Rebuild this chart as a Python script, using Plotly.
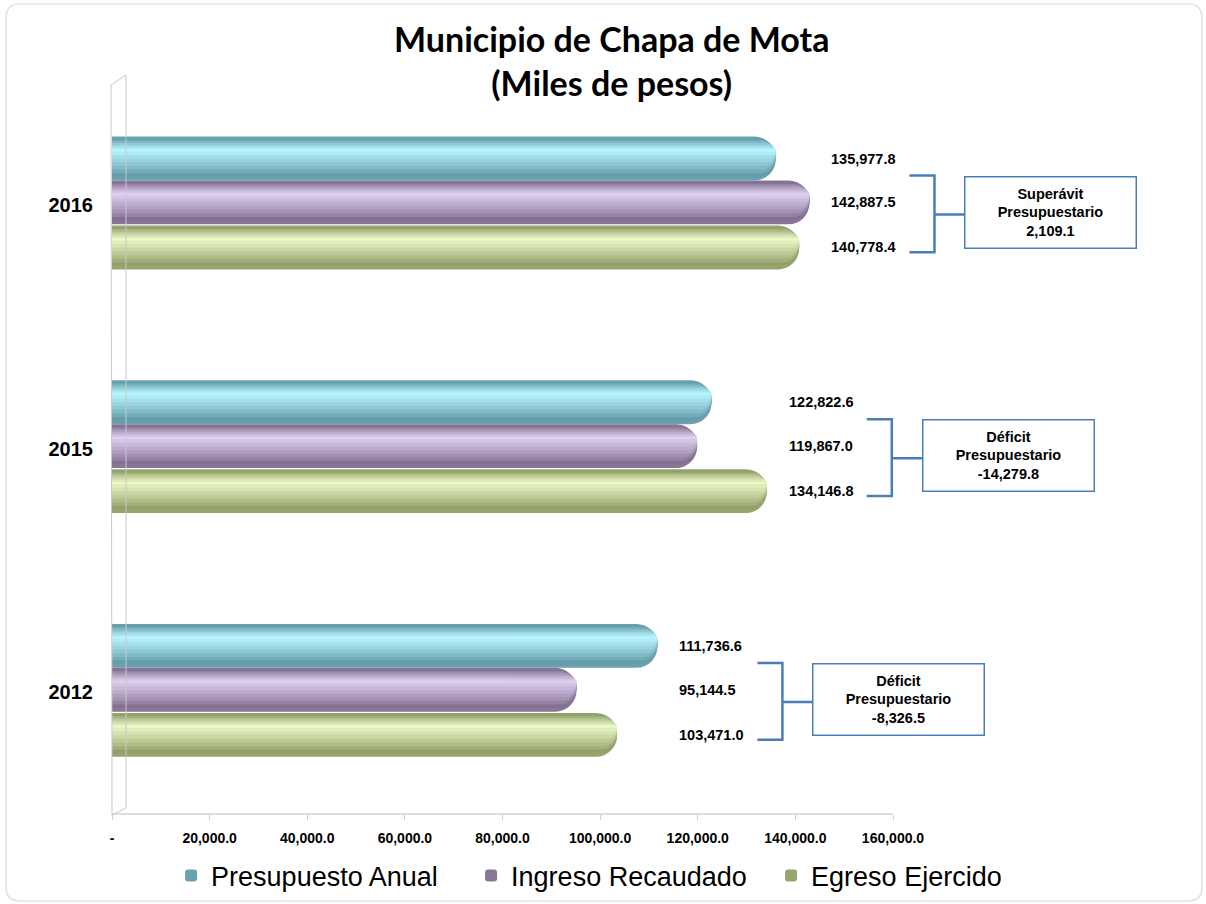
import plotly.graph_objects as go

# datos (miles de pesos)
years = ["2012", "2015", "2016"]
presupuesto = [111736.6, 122822.6, 135977.8]
ingreso = [95144.5, 119867.0, 142887.5]
egreso = [103471.0, 134146.8, 140778.4]

series_names = ["Presupuesto Anual", "Ingreso Recaudado", "Egreso Ejercido"]
tick_vals = [0, 20000, 40000, 60000, 80000, 100000, 120000, 140000, 160000]
tick_text = ["-", "20,000.0", "40,000.0", "60,000.0", "80,000.0",
             "100,000.0", "120,000.0", "140,000.0", "160,000.0"]

# layout en pixeles
W, H = 1206, 904
ML, MR, MT, MB = 112, 16, 83, 90
PW, PH = W - ML - MR, H - MT - MB
XMAX = 160000 * PW / (893 - ML)


def px(x):
    return (x - ML) / PW


def py(y):
    return (H - MB - y) / PH


def mix(c1, c2, t):
    a = [int(c1[i:i + 2], 16) for i in (1, 3, 5)]
    b = [int(c2[i:i + 2], 16) for i in (1, 3, 5)]
    return "#" + "".join(f"{round(x + (y - x) * t):02X}" for x, y in zip(a, b))


# tonos cilindro: oscuro -> brillo
shades = {
    "Presupuesto Anual": ("#4F8593", "#B8F6FF"),
    "Ingreso Recaudado": ("#6A5879", "#E0D0F0"),
    "Egreso Ejercido": ("#7A8852", "#EAF9C6"),
}
offsets = {"Presupuesto Anual": 0.19, "Ingreso Recaudado": 0.01, "Egreso Ejercido": -0.175}
BW = 0.18
NL = 9

values = dict(zip(series_names, [presupuesto, ingreso, egreso]))
ypos = list(range(len(years)))

fig = go.Figure()

for k in range(NL):
    t = k / (NL - 1)
    a = -0.5 + t * 0.66
    b = 0.5 - t * 0.29
    for name in series_names:
        dark, hi = shades[name]
        fig.add_trace(go.Bar(
            x=values[name],
            y=[i + offsets[name] + BW * (a + b) / 2 for i in ypos],
            orientation="h",
            width=BW * (b - a),
            name=name,
            showlegend=(k == 0),
            legendgroup=name,
            marker=dict(color=mix(dark, hi, t ** 0.75) if k else mix(dark, hi, 0.25),
                        cornerradius="50%", line=dict(width=0)),
            hoverinfo="skip" if k else "x+name",
        ))

annotations = [dict(
    x=px(611), y=py(16), xref="paper", yref="paper",
    text="<b>Municipio de Chapa de Mota<br>(Miles de pesos)</b>",
    showarrow=False, xanchor="center", yanchor="top",
    font=dict(family="Lato", size=34, color="black"),
)]
shapes = []
for i, yr in enumerate(years):
    gmax = max(values[n][i] for n in series_names)
    for name in series_names:
        annotations.append(dict(
            x=gmax, y=i + offsets[name], xref="x", yref="y",
            text="<b>%s</b>" % f"{values[name][i]:,.1f}",
            showarrow=False, xanchor="left", xshift=20,
            font=dict(family="Arial", size=14.5, color="black"),
        ))
    diff = ingreso[i] - egreso[i]
    kind = "Superávit" if diff >= 0 else "Déficit"
    top, bot, mid = i + 0.12, i - 0.195, i - 0.04
    shapes.append(dict(
        type="path", xref="x", yref="y", xsizemode="pixel", xanchor=gmax,
        path=f"M 100,{top} L 125,{top} L 125,{bot} L 100,{bot} M 125,{mid} L 156,{mid}",
        line=dict(color="#4A7EBB", width=2.5),
    ))
    annotations.append(dict(
        x=gmax, y=i - 0.03, xref="x", yref="y",
        text=f"<b>{kind}<br>Presupuestario<br>{diff:,.1f}</b>",
        showarrow=False, xanchor="left", yanchor="middle", xshift=155,
        width=164, height=64, borderpad=3, align="center",
        bordercolor="#4A7EBB", borderwidth=1.5, bgcolor="white",
        font=dict(family="Arial", size=14.5, color="black"),
    ))

# piso del grafico
shapes.append(dict(type="line", xref="x", yref="paper", x0=0, x1=160000, y0=0, y1=0,
                   line=dict(color="#D0D0D0", width=1.5)))
# pared lateral 3D
shapes.append(dict(
    type="path", xref="paper", yref="paper",
    path=f"M {px(111)},{py(85)} L {px(126)},{py(75)} L {px(126)},{py(808)} "
         f"L {px(112)},{py(815)} Z",
    line=dict(color="#C8C8C8", width=1),
))
# borde exterior redondeado
x0, x1, y0, y1, r = 6, 1202, 4, 901, 14
shapes.append(dict(
    type="path", xref="paper", yref="paper", layer="below",
    path=(f"M {px(x0 + r)},{py(y0)} L {px(x1 - r)},{py(y0)} "
          f"Q {px(x1)},{py(y0)} {px(x1)},{py(y0 + r)} L {px(x1)},{py(y1 - r)} "
          f"Q {px(x1)},{py(y1)} {px(x1 - r)},{py(y1)} L {px(x0 + r)},{py(y1)} "
          f"Q {px(x0)},{py(y1)} {px(x0)},{py(y1 - r)} L {px(x0)},{py(y0 + r)} "
          f"Q {px(x0)},{py(y0)} {px(x0 + r)},{py(y0)} Z"),
    line=dict(color="#D8D8D8", width=1.2),
))

fig.update_layout(
    width=W, height=H,
    margin=dict(l=ML, r=MR, t=MT, b=MB, autoexpand=False),
    paper_bgcolor="white", plot_bgcolor="white",
    barmode="overlay",
    xaxis=dict(
        range=[0, XMAX], tickvals=tick_vals, ticktext=tick_text,
        showgrid=False, zeroline=False, showline=False, automargin=False,
        ticks="outside", ticklen=5, tickcolor="#D0D0D0",
        ticklabelstandoff=6,
        tickfont=dict(family="Arial", size=14, color="black", weight="bold"),
    ),
    yaxis=dict(
        range=[-0.5, 2.5], tickvals=ypos, ticktext=years,
        showgrid=False, zeroline=False, showline=False, ticks="",
        automargin=False, ticklabelstandoff=18,
        tickfont=dict(family="Arial", size=20, color="black", weight="bold"),
    ),
    legend=dict(
        orientation="h", xref="container", yref="container",
        x=0.515, xanchor="center", y=0.004, yanchor="bottom",
        bgcolor="rgba(0,0,0,0)",
        font=dict(family="Arial", size=27, color="black"),
        entrywidth=255, entrywidthmode="pixels",
        itemclick=False,
    ),
    annotations=annotations,
    shapes=shapes,
)

# sin margen del body para que el grafico ocupe la ventana
fig.write_html("out.html", config={"displayModeBar": False},
               post_script="document.body.style.margin='0px';")
